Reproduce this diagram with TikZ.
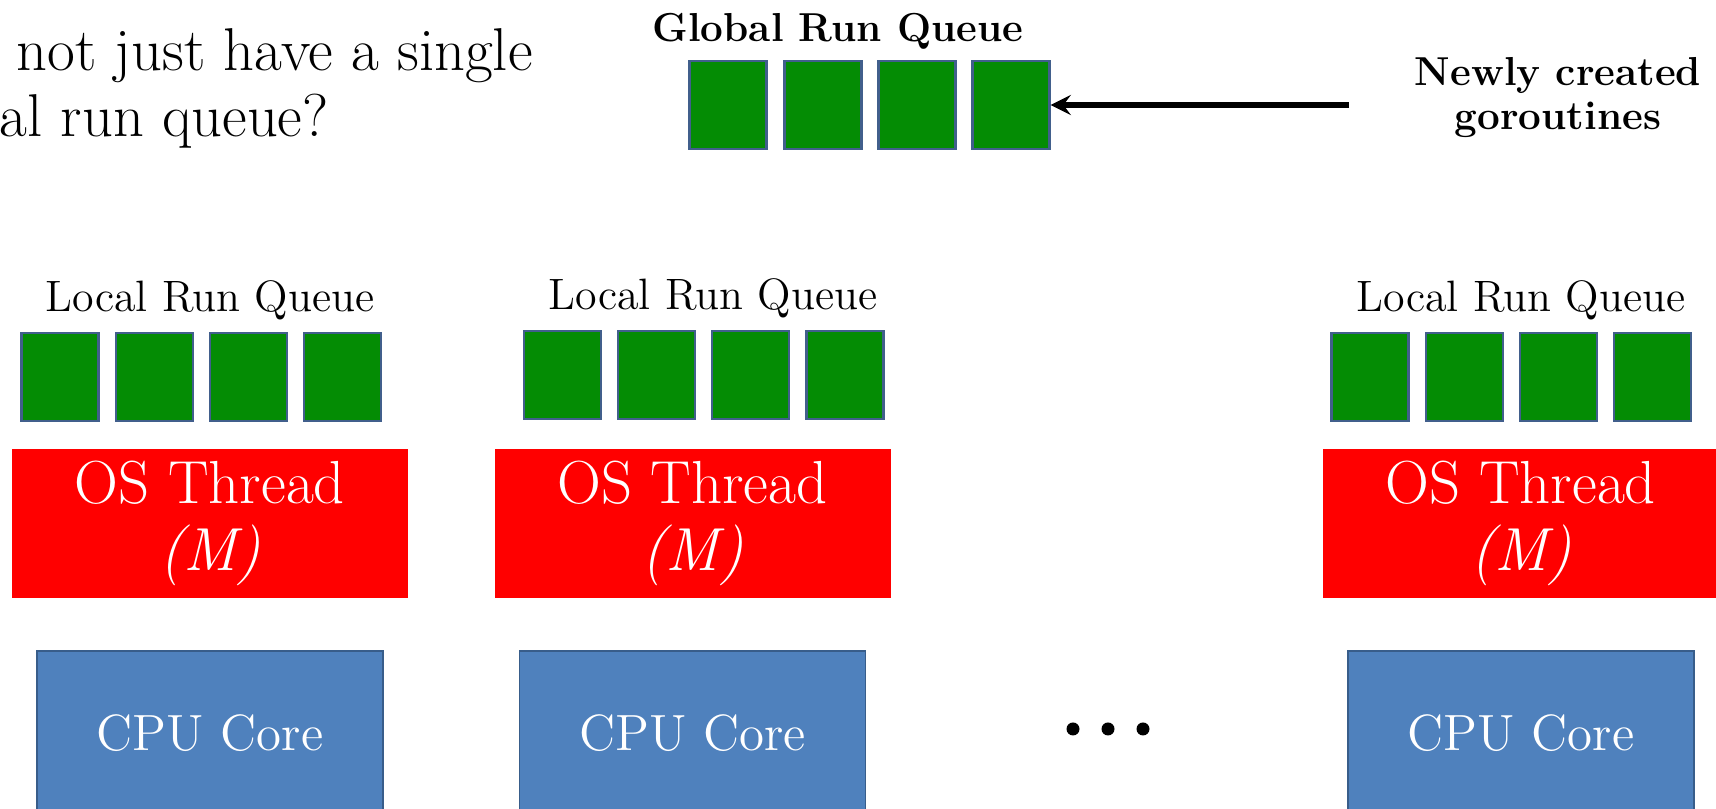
\documentclass[tikz,border=0pt]{standalone}
\usepackage{fontspec}
\definecolor{qgreen}{RGB}{4,140,4}
\definecolor{qedge}{RGB}{65,95,140}
\definecolor{cpublue}{RGB}{79,129,189}
\definecolor{cpuedge}{RGB}{56,93,138}
\begin{document}
\begin{tikzpicture}[
    gor/.style={draw=qedge,fill=qgreen,line width=0.6pt,minimum width=0.77cm,minimum height=0.88cm,inner sep=0pt},
    thread/.style={fill=red,text=white,minimum width=3.96cm,minimum height=1.49cm,align=center,font=\fontsize{17.3}{19}\selectfont},
    core/.style={draw=cpuedge,fill=cpublue,text=white,line width=0.5pt,minimum width=3.46cm,minimum height=1.64cm,font=\fontsize{14.5}{17}\selectfont},
    qlabel/.style={anchor=base,inner sep=0pt,font=\fontsize{12.5}{15}\selectfont},
    question/.style={anchor=base west,inner sep=0pt,font=\fontsize{17.2}{20}\selectfont},
    arrow/.style={->,>=stealth,line width=1.5pt}
]
\clip (0,0) rectangle (17.16,-8.09);

% Question (cut at the left edge)
\node[question] (q1) at (0.16,-0.71) {not just have a single};
\node[question] (q2) at (-0.01,-1.37) {al run queue?};

% Global run queue
\node[anchor=base,inner sep=0pt,font=\fontsize{11.5}{14}\selectfont\bfseries] (gtitle) at (8.38,-0.42) {Global Run Queue};
\node[gor] (g1) at (7.28,-1.05) {};
\node[gor] (g2) at (8.23,-1.05) {};
\node[gor] (g3) at (9.17,-1.05) {};
\node[gor] (g4) at (10.11,-1.05) {};

% New goroutines
\node[align=center,font=\fontsize{11.5}{12.5}\selectfont\bfseries] (new) at (15.58,-0.98) {Newly created\\goroutines};
\coordinate (src) at (13.49,-1.05);
\draw[arrow] (src) -- (g4.east);

% First core
\node[qlabel] (lq1) at (2.10,-3.12) {Local Run Queue};
\node[gor] (a1) at (0.60,-3.77) {};
\node[gor] (a2) at (1.545,-3.77) {};
\node[gor] (a3) at (2.485,-3.77) {};
\node[gor] (a4) at (3.425,-3.77) {};
\node[thread] (m1) at (2.10,-5.235) {OS Thread\\\textit{(M)}};
\node[core] (c1) at (2.10,-7.33) {CPU Core};

% Second core
\node[qlabel] (lq2) at (7.13,-3.10) {Local Run Queue};
\node[gor] (b1) at (5.625,-3.75) {};
\node[gor] (b2) at (6.565,-3.75) {};
\node[gor] (b3) at (7.505,-3.75) {};
\node[gor] (b4) at (8.45,-3.75) {};
\node[thread] (m2) at (6.925,-5.235) {OS Thread\\\textit{(M)}};
\node[core] (c2) at (6.925,-7.33) {CPU Core};

% Dots
\fill (10.73,-7.29) circle (0.065);
\fill (11.08,-7.29) circle (0.065);
\fill (11.43,-7.29) circle (0.065);

% Last core
\node[qlabel] (lq3) at (15.21,-3.12) {Local Run Queue};
\node[gor] (d1) at (13.70,-3.77) {};
\node[gor] (d2) at (14.645,-3.77) {};
\node[gor] (d3) at (15.585,-3.77) {};
\node[gor] (d4) at (16.525,-3.77) {};
\node[thread] (m3) at (15.21,-5.235) {OS Thread\\\textit{(M)}};
\node[core] (c3) at (15.21,-7.33) {CPU Core};
\end{tikzpicture}
\end{document}
